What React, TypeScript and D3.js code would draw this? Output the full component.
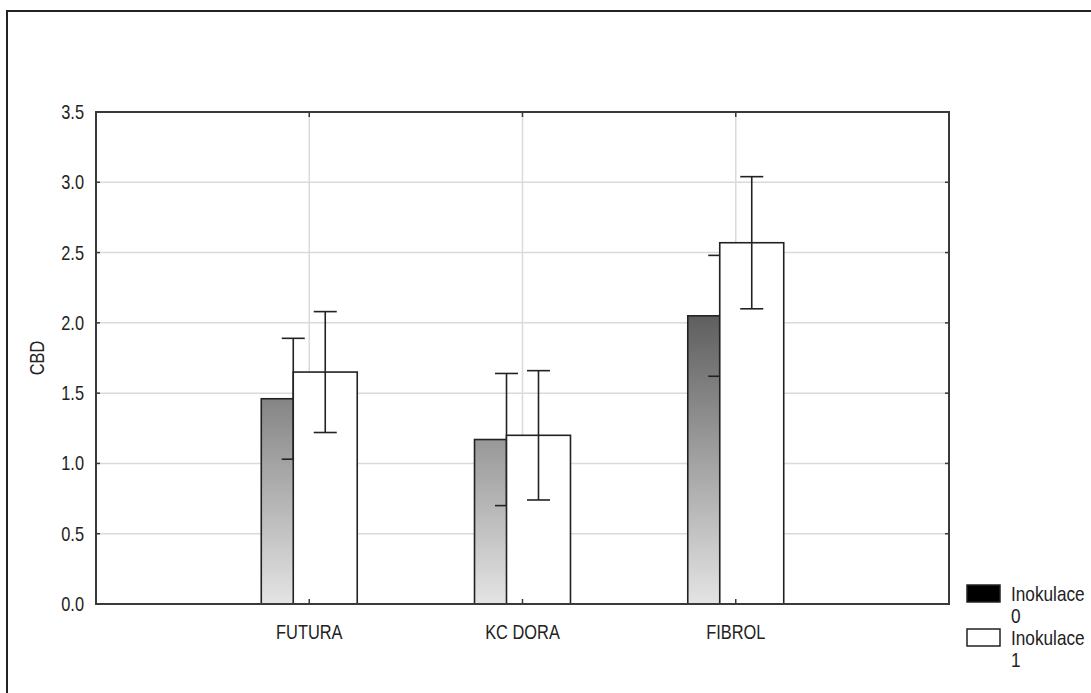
import React from "react";
import * as d3 from "d3";

// values
const categories = ["FUTURA", "KC DORA", "FIBROL"];
const mean0 = [1.46, 1.17, 2.05];
const err0 = [0.43, 0.47, 0.43];
const mean1 = [1.65, 1.2, 2.57];
const err1 = [0.43, 0.46, 0.47];
const yTicks = [0, 0.5, 1, 1.5, 2, 2.5, 3, 3.5];
const legendLabels = ["Inokulace", "Inokulace"];
const legendSub = ["0", "1"];

const W = 1091;
const H = 693;
const margin = { top: 112, right: 142, bottom: 89, left: 96 };
const FONT = "'Liberation Sans', Arial, sans-serif";
const SX = 0.82; // condensed look of the original font

// text squeezed horizontally, like Arial Narrow
const Narrow = ({ x, y, anchor = "start", size = 20, rotate = 0, children }: any) => (
  <text
    transform={`translate(${x},${y}) rotate(${rotate}) scale(${SX},1)`}
    textAnchor={anchor}
    fontFamily={FONT}
    fontSize={size}
    fill="#222"
  >
    {children}
  </text>
);

const App = () => {
  const x = d3.scaleLinear().domain([0, 4]).range([margin.left, W - margin.right]);
  const y = d3.scaleLinear().domain([0, 3.5]).range([H - margin.bottom, margin.top]);
  const fmt = d3.format(".1f");

  const barW = 0.3; // in category units
  const shift = 0.075;
  const cap = 0.054;

  const errBar = (cx: number, m: number, e: number, key: string) => (
    <g key={key} stroke="#222" strokeWidth={1.6}>
      <line x1={x(cx)} x2={x(cx)} y1={y(m + e)} y2={y(m - e)} />
      <line x1={x(cx - cap)} x2={x(cx + cap)} y1={y(m + e)} y2={y(m + e)} />
      <line x1={x(cx - cap)} x2={x(cx + cap)} y1={y(m - e)} y2={y(m - e)} />
    </g>
  );

  return (
    <div style={{ position: "absolute", left: 0, top: 0 }}>
      <svg width={W} height={H} style={{ display: "block", background: "#fff" }}>
        <defs>
          <linearGradient
            id="dark"
            gradientUnits="userSpaceOnUse"
            x1={0}
            x2={0}
            y1={y(0)}
            y2={y(3.5)}
          >
            <stop offset="0%" stopColor="#e4e4e4" />
            <stop offset="100%" stopColor="#000" />
          </linearGradient>
        </defs>

        {/* outer frame */}
        <rect x={7} y={11} width={W + 20} height={H + 20} fill="none" stroke="#222" strokeWidth={2} />

        {/* grid */}
        {yTicks.slice(1, -1).map((t) => (
          <line
            key={"gy" + t}
            x1={x(0)}
            x2={x(4)}
            y1={y(t)}
            y2={y(t)}
            stroke="#dadada"
            strokeWidth={1.5}
          />
        ))}
        {categories.map((c, i) => (
          <line
            key={"gx" + c}
            x1={x(i + 1)}
            x2={x(i + 1)}
            y1={y(0)}
            y2={y(3.5)}
            stroke="#dadada"
            strokeWidth={1.5}
          />
        ))}

        {/* bars: series 0 behind, series 1 in front */}
        {categories.map((c, i) => {
          const cx0 = i + 1 - shift;
          const cx1 = i + 1 + shift;
          return (
            <g key={"b" + c}>
              <rect
                x={x(cx0 - barW / 2)}
                y={y(mean0[i])}
                width={x(cx0 + barW / 2) - x(cx0 - barW / 2)}
                height={y(0) - y(mean0[i])}
                fill="url(#dark)"
                stroke="#222"
                strokeWidth={1.6}
              />
              {errBar(cx0, mean0[i], err0[i], "e0" + c)}
              <rect
                x={x(cx1 - barW / 2)}
                y={y(mean1[i])}
                width={x(cx1 + barW / 2) - x(cx1 - barW / 2)}
                height={y(0) - y(mean1[i])}
                fill="#fff"
                stroke="#222"
                strokeWidth={1.6}
              />
              {errBar(cx1, mean1[i], err1[i], "e1" + c)}
            </g>
          );
        })}

        {/* plot border */}
        <rect
          x={x(0)}
          y={y(3.5)}
          width={x(4) - x(0)}
          height={y(0) - y(3.5)}
          fill="none"
          stroke="#3a3a3a"
          strokeWidth={2}
        />

        {/* ticks */}
        {yTicks.map((t) => (
          <g key={"ty" + t}>
            <line x1={x(0)} x2={x(0) + 4} y1={y(t)} y2={y(t)} stroke="#3a3a3a" strokeWidth={1.5} />
            <line x1={x(4)} x2={x(4) - 4} y1={y(t)} y2={y(t)} stroke="#3a3a3a" strokeWidth={1.5} />
            <Narrow x={x(0) - 12} y={y(t) + 7} anchor="end">
              {fmt(t)}
            </Narrow>
          </g>
        ))}
        {categories.map((c, i) => (
          <g key={"tx" + c}>
            <line x1={x(i + 1)} x2={x(i + 1)} y1={y(0)} y2={y(0) - 5} stroke="#3a3a3a" strokeWidth={1.5} />
            <line x1={x(i + 1)} x2={x(i + 1)} y1={y(3.5)} y2={y(3.5) + 5} stroke="#3a3a3a" strokeWidth={1.5} />
            <Narrow x={x(i + 1)} y={y(0) + 35} anchor="middle">
              {c}
            </Narrow>
          </g>
        ))}

        {/* y label */}
        <Narrow x={44} y={(y(0) + y(3.5)) / 2} anchor="middle" rotate={-90}>
          CBD
        </Narrow>

        {/* legend */}
        {legendLabels.map((l, i) => (
          <g key={"lg" + i} transform={`translate(967,${585 + i * 44})`}>
            <rect
              x={0}
              y={0}
              width={33}
              height={17}
              fill={i === 0 ? "#000" : "#fff"}
              stroke="#222"
              strokeWidth={1.5}
            />
            <Narrow x={44} y={16} size={21}>
              {l}
            </Narrow>
            <Narrow x={44} y={38} size={21}>
              {legendSub[i]}
            </Narrow>
          </g>
        ))}
      </svg>
    </div>
  );
};

export default App;
